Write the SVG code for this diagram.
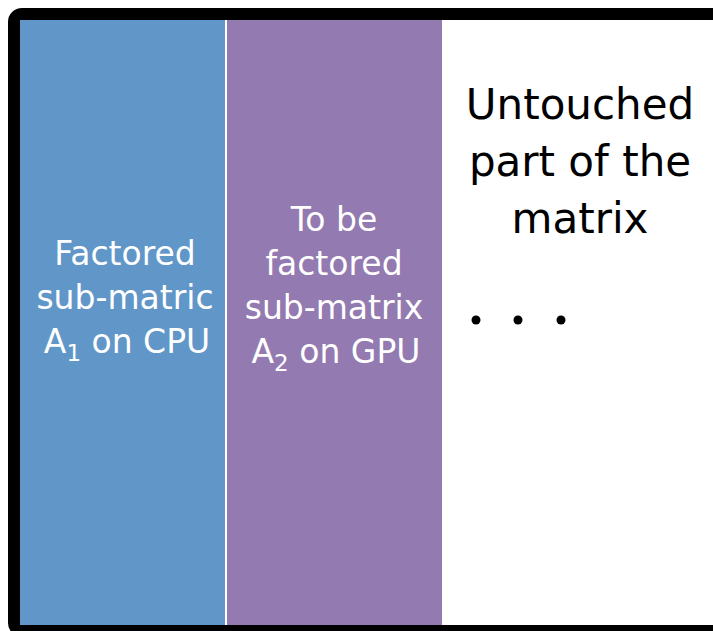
<svg xmlns="http://www.w3.org/2000/svg" width="713" height="631" viewBox="0 0 713 631">
<style>
.t{font-family:"DejaVu Sans","Liberation Sans",sans-serif;text-anchor:middle}
.w{fill:#ffffff;font-size:33px}
.k{fill:#000000;font-size:42px}
.sub{font-size:23px}
</style>
<rect x="0" y="0" width="713" height="631" fill="#ffffff"/>
<g id="frame">
<rect x="14" y="14" width="712" height="617" rx="8" fill="#ffffff" stroke="#000000" stroke-width="12"/>
</g>
<g id="cpu-block">
<rect x="20" y="20" width="205" height="605" fill="#6096C8"/>
<text class="t w" x="125" y="265">Factored</text>
<text class="t w" x="125" y="309">sub-matric</text>
<text class="t w" x="127" y="353">A<tspan class="sub" dy="8">1</tspan><tspan dy="-8"> on CPU</tspan></text>
</g>
<g id="gpu-block">
<rect x="227" y="20" width="215" height="605" fill="#937AB0"/>
<text class="t w" x="334" y="231">To be</text>
<text class="t w" x="334" y="275">factored</text>
<text class="t w" x="334" y="319">sub-matrix</text>
<text class="t w" x="336" y="363">A<tspan class="sub" dy="8">2</tspan><tspan dy="-8"> on GPU</tspan></text>
</g>
<g id="untouched">
<text class="t k" x="580" y="119">Untouched</text>
<text class="t k" x="580" y="176">part of the</text>
<text class="t k" x="580" y="233">matrix</text>
<circle cx="476" cy="320" r="4.5" fill="#000"/>
<circle cx="518" cy="320" r="4.5" fill="#000"/>
<circle cx="561" cy="320" r="4.5" fill="#000"/>
</g>
</svg>
